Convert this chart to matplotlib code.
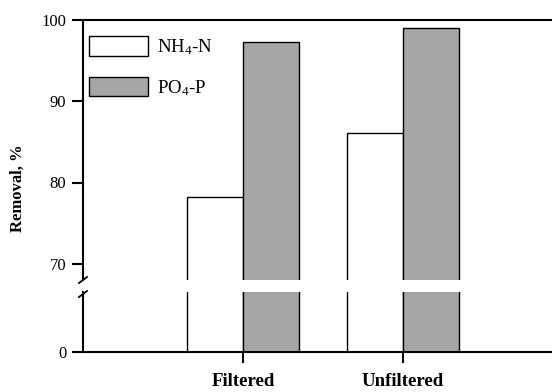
import matplotlib
matplotlib.use("Agg")
import matplotlib.pyplot as plt
from matplotlib.lines import Line2D
import numpy as np

categories = ["Filtered", "Unfiltered"]
nh4_n = [78.2, 86.1]
po4_p = [97.3, 99.0]
series_labels = [r"NH$_4$-N", r"PO$_4$-P"]
top_ticks = [70, 80, 90, 100]
bottom_ticks = [0]

plt.rcParams['font.family'] = ['Liberation Serif', 'DejaVu Serif']
plt.rcParams['mathtext.fontset'] = 'custom'
plt.rcParams['mathtext.rm'] = 'Liberation Serif'
plt.rcParams['mathtext.it'] = 'Liberation Serif:italic'
plt.rcParams['mathtext.bf'] = 'Liberation Serif:bold'

W, H = 552, 392
fig = plt.figure(figsize=(W / 100, H / 100), dpi=100)

def fx(px):
    return px / W

def fy(py):
    return (H - py) / H

left, right = fx(83), fx(563)
ax_top = fig.add_axes([left, fy(280), right - left, fy(20) - fy(280)])
ax_bot = fig.add_axes([left, fy(352), right - left, fy(292) - fy(352)])

x = np.arange(len(categories))
w = 0.35
gray = "#a6a6a6"
lw_sp = 1.5

for ax in (ax_top, ax_bot):
    ax.bar(x - w / 2, nh4_n, w, color="white", edgecolor="black", linewidth=1.0,
           label=series_labels[0])
    ax.bar(x + w / 2, po4_p, w, color=gray, edgecolor="black", linewidth=1.0,
           label=series_labels[1])
    ax.set_xlim(-1, 2)
    for s in ax.spines.values():
        s.set_linewidth(lw_sp)
    ax.tick_params(axis='y', direction='out', length=8, width=1.5, labelsize=12, pad=4)

ax_top.set_ylim(68, 100)
ax_top.set_yticks(top_ticks)
ax_top.spines['bottom'].set_visible(False)
ax_top.tick_params(axis='x', bottom=False, labelbottom=False)

ax_bot.set_ylim(0, 60)
ax_bot.set_yticks(bottom_ticks)
ax_bot.spines['top'].set_visible(False)
ax_bot.set_xticks(x)
ax_bot.set_xticklabels(categories, fontsize=13.5, fontweight='bold')
ax_bot.tick_params(axis='x', direction='out', length=8, width=1.5, pad=7)

# axis break marks
for (x0, y0, x1, y1) in [(79, 283, 87, 277), (79, 297, 87, 291)]:
    fig.add_artist(Line2D([fx(x0), fx(x1)], [fy(y0), fy(y1)], color="black",
                          linewidth=1.3, transform=fig.transFigure))

fig.text(fx(18), fy(188), "Removal, %", rotation=90, ha='center', va='center',
         fontsize=12, fontweight='bold')

leg = ax_top.legend(loc='upper left', bbox_to_anchor=(fx(89), fy(36)),
                    bbox_transform=fig.transFigure, frameon=False, fontsize=13.5,
                    handlelength=3.15, handleheight=1.25, labelspacing=1.05,
                    handletextpad=0.48, borderpad=0, borderaxespad=0)

fig.savefig("out.png", dpi=100)
